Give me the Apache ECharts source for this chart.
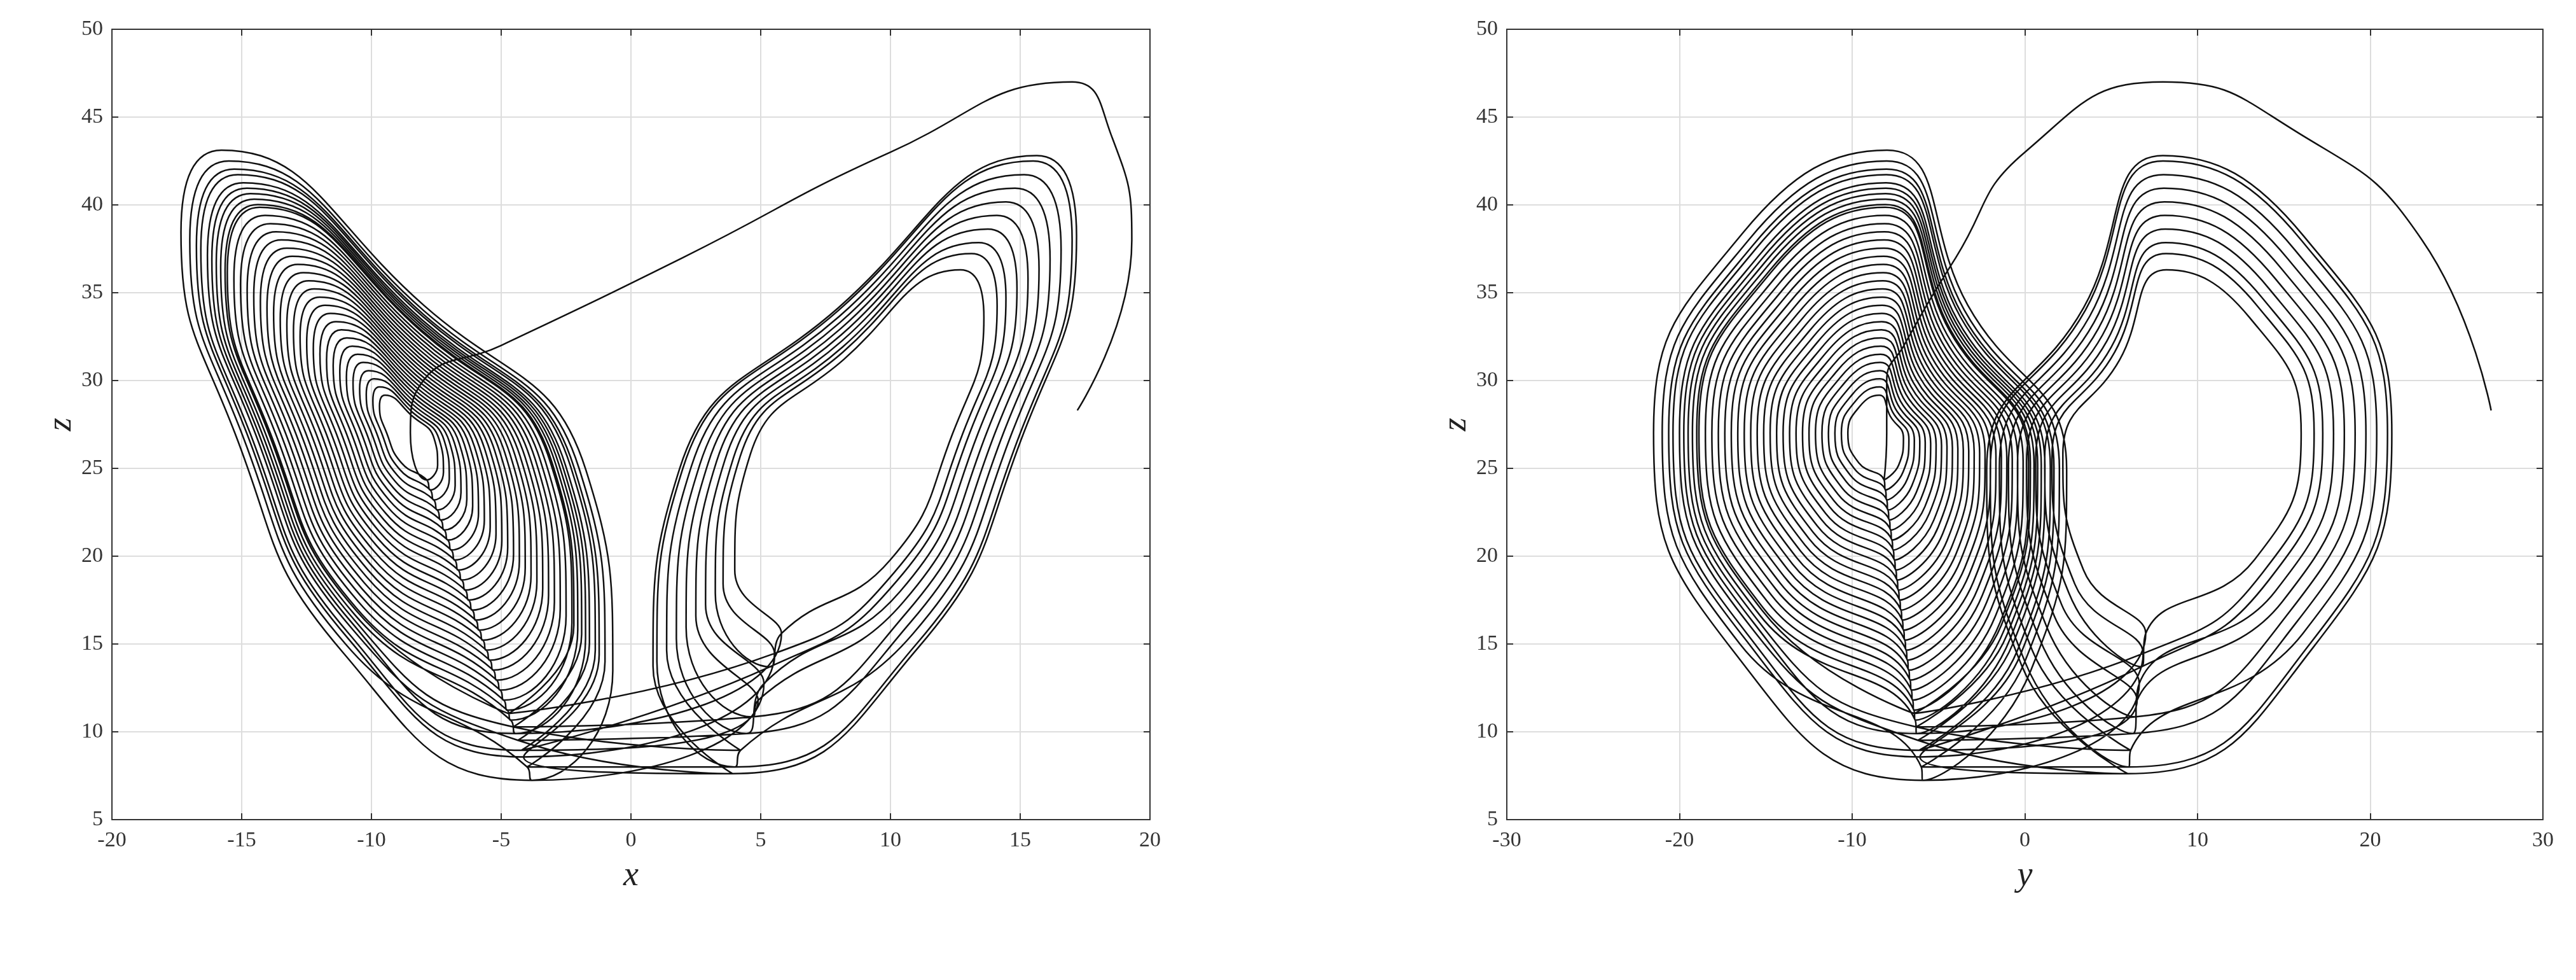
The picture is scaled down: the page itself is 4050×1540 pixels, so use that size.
<!DOCTYPE html>
<html><head><meta charset="utf-8">
<script src="https://cdn.jsdelivr.net/npm/echarts@6/dist/echarts.min.js"></script>
<style>html,body{margin:0;background:#fff}#c{width:4050px;height:1540px}</style>
</head><body><div id="c"></div>
<script>
// Opening arc: [x, y, z]
const startPath = [[17.2,27,28.3],[19.3,23,38],[18.5,16,44],[17,8,47],[10,0,43],[2,-4,37],[-5,-7,32],[-8,-8,30],[-8.5,-8,27]];
// Loop shape read from the largest left-wing loop, as offsets from the wing centre [dx, dy, dz]
const loopShape = [[4.5,2.5,-19],[7.5,8.5,-13],[6.5,10.5,-2],[0.5,5,7],[-7,0.5,15.5],[-8.5,-7.5,11],[-6.5,-12.5,0],[-2.5,-8,-12],[4.5,2.5,-19]];
const leftCentre = [-8.5,-8.5,27];
// Sequence of loops: wing and relative size
const loopSide = ['L','L','L','L','L','L','L','L','L','L','L','L','L','L','L','L','L','L','L','L','L','L','L','L','L','L','R','R','L','R','R','L','R','R','L','L','R','R','L','R','L','R','L'];
const loopSize = [0.14,0.17,0.2,0.23,0.26,0.29,0.32,0.35,0.38,0.41,0.44,0.47,0.5,0.53,0.56,0.59,0.62,0.65,0.68,0.71,0.74,0.77,0.8,0.83,0.86,0.9,0.6,0.7,0.95,0.8,0.85,0.88,0.95,1.0,1.0,1.04,0.75,0.9,0.92,1.02,0.97,0.66,0.84];
const xTicks = {min:-20,max:20,interval:5};
const yTicks = {min:-30,max:30,interval:10};
const zTicks = {min:5,max:50,interval:5};

const path = startPath.slice();
loopSide.forEach((side,i)=>{
  const s = loopSize[i], m = side==='L'?1:-1;
  loopShape.forEach(p=>{
    path.push([m*(leftCentre[0]+s*p[0]), m*(leftCentre[1]+s*p[1]), leftCentre[2]+s*p[2]]);
  });
});
const xz = path.map(p=>[p[0],p[2]]);
const yz = path.map(p=>[p[1],p[2]]);

const lab = {fontFamily:'Liberation Serif',fontSize:34,color:'#333'};
const nameStyle = {fontFamily:'Liberation Serif',fontStyle:'italic',fontSize:54,color:'#222'};
const line = {onZero:false,lineStyle:{color:'#333',width:2}};
const tick = {inside:true,length:10,lineStyle:{color:'#333',width:2}};
function xAx(idx,t,name){return {gridIndex:idx,type:'value',min:t.min,max:t.max,interval:t.interval,name:name,nameLocation:'middle',nameGap:62,nameTextStyle:nameStyle,
 axisLine:line,axisTick:tick,axisLabel:Object.assign({margin:16},lab),splitLine:{lineStyle:{color:'#ddd',width:2}}};}
function xTop(idx,t){return {gridIndex:idx,type:'value',position:'top',min:t.min,max:t.max,interval:t.interval,axisLine:line,axisTick:tick,axisLabel:{show:false},splitLine:{show:false}};}
function yAx(idx,t,name){return {gridIndex:idx,type:'value',min:t.min,max:t.max,interval:t.interval,name:name,nameLocation:'middle',nameGap:50,nameTextStyle:nameStyle,
 axisLine:line,axisTick:tick,axisLabel:Object.assign({margin:14},lab),splitLine:{lineStyle:{color:'#ddd',width:2}}};}
function yRight(idx,t){return {gridIndex:idx,type:'value',position:'right',min:t.min,max:t.max,interval:t.interval,axisLine:line,axisTick:tick,axisLabel:{show:false},splitLine:{show:false}};}

const chart = echarts.init(document.getElementById('c'));
chart.setOption({
  backgroundColor:'#fff',animation:false,
  grid:[{left:176,top:46,width:1632,height:1242},{left:2369,top:46,width:1629,height:1242}],
  xAxis:[xAx(0,xTicks,'x'),xAx(1,yTicks,'y'),xTop(0,xTicks),xTop(1,yTicks)],
  yAxis:[yAx(0,zTicks,'z'),yAx(1,zTicks,'z'),yRight(0,zTicks),yRight(1,zTicks)],
  series:[
    {type:'line',xAxisIndex:0,yAxisIndex:0,data:xz,showSymbol:false,smooth:0.5,lineStyle:{color:'#111',width:2.5}},
    {type:'line',xAxisIndex:1,yAxisIndex:1,data:yz,showSymbol:false,smooth:0.5,lineStyle:{color:'#111',width:2.5}}
  ]
});
</script></body></html>
